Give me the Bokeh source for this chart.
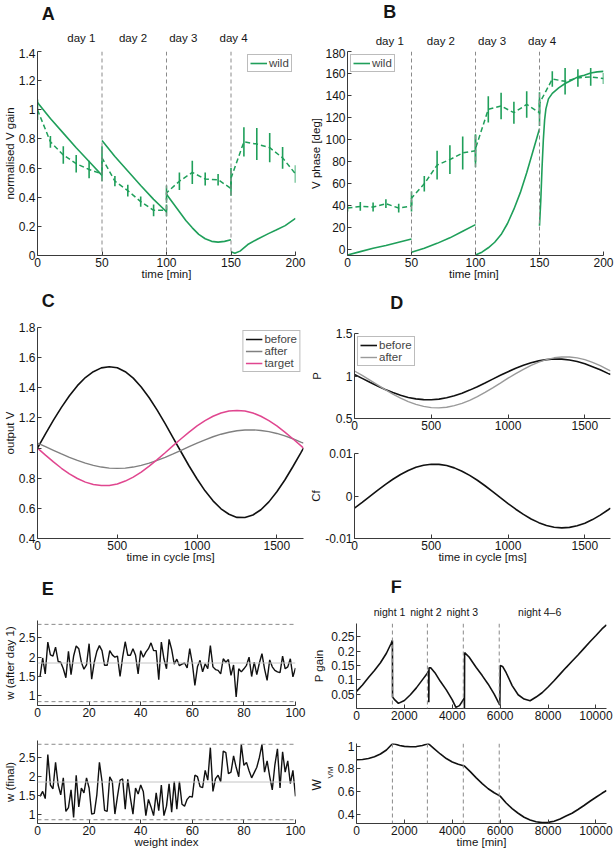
from bokeh.plotting import figure
from bokeh.layouts import row, column
from bokeh.models import Range1d, FixedTicker, Span, ColumnDataSource, Title
from bokeh.core.properties import value
from bokeh.embed import file_html
from bokeh.resources import INLINE

FONT = "Liberation Sans"
TICK_SIZE = "12px"
LAB_SIZE = "11.5px"
GREEN = "#1f9f5a"
AXC = "#3a3a3a"
TXT = "#151515"

# ---------------- Panel A: normalised V gain ----------------
A_model_t = [[0, 10, 20, 30, 40, 50],
             [50, 60, 70, 80, 90, 100],
             [100, 105, 110, 115, 120, 125, 130, 135, 140, 145, 150],
             [150, 153, 157, 163, 170, 179, 185, 192, 200]]
A_model_v = [[1.05, 0.94, 0.84, 0.74, 0.645, 0.55],
             [0.79, 0.68, 0.58, 0.48, 0.385, 0.30],
             [0.42, 0.36, 0.30, 0.24, 0.19, 0.145, 0.115, 0.097, 0.092, 0.097, 0.108],
             [0.025, 0.015, 0.03, 0.075, 0.11, 0.15, 0.175, 0.205, 0.255]]
A_exp_t = [0, 10, 20, 30, 40, 50, 50, 60, 70, 80, 90, 100, 100, 110, 120, 130, 140, 150, 150, 160, 170, 180, 190, 200]
A_exp_v = [1.0, 0.78, 0.69, 0.63, 0.59, 0.56, 0.67, 0.51, 0.445, 0.37, 0.31, 0.31, 0.43, 0.51, 0.57, 0.525, 0.52, 0.46, 0.53, 0.78, 0.765, 0.74, 0.67, 0.56]
A_exp_err = [0.07, 0.04, 0.06, 0.06, 0.06, 0.05, 0.08, 0.035, 0.04, 0.035, 0.04, 0.04, 0.05, 0.06, 0.08, 0.045, 0.04, 0.05, 0.07, 0.1, 0.11, 0.1, 0.075, 0.06]
A_xticks = [0, 50, 100, 150, 200]
A_yticks = [0, 0.2, 0.4, 0.6, 0.8, 1, 1.2, 1.4]
day_bounds = [50, 100, 150]
day_labels = ["day 1", "day 2", "day 3", "day 4"]
A_day_label_x = [34, 74, 113, 152]

# ---------------- Panel B: V phase ----------------
B_model_t = [[0, 10, 20, 30, 40, 50],
             [50, 60, 70, 80, 90, 100],
             [100, 105, 110, 115, 120, 125, 130, 135, 140, 145, 150],
             [150, 151, 152, 153, 154, 155, 157, 160, 165, 170, 175, 180, 185, 190, 195, 200]]
B_model_v = [[-4.5, -1.5, 1.5, 4, 7, 10],
             [-2, 1.5, 6, 11, 17, 23],
             [-4.5, -2, 2, 7, 14, 24, 37, 52, 70, 90, 110],
             [22, 45, 75, 100, 118, 128, 137, 142, 147, 151, 154, 157, 158.5, 160.5, 161.5, 162]]
B_exp_t = A_exp_t
B_exp_v = [38, 39.5, 39, 42, 38, 40, 47, 60, 77, 82, 88, 90, 92, 127.5, 130.5, 124.5, 132, 124.5, 133, 155, 153, 156, 157, 155.5]
B_exp_err = [3, 4, 4, 4, 4, 5, 6, 7, 13, 13, 15, 15, 12, 12, 12, 10, 12, 12, 10, 7, 12, 8, 8, 5]
B_yticks = [0, 20, 40, 60, 80, 100, 120, 140, 160, 180]
B_day_label_x = [33, 73, 113, 152]

# ---------------- Panels C, D: one cycle ----------------
cyc_t = [0, 50, 100, 150, 200, 250, 300, 350, 400, 450, 500, 550, 600, 650, 700, 750, 800, 850,
         900, 950, 1000, 1050, 1100, 1150, 1200, 1250, 1300, 1350, 1400, 1450, 1500, 1550, 1600, 1650, 1667]
C_before = [1.000, 1.094, 1.185, 1.270, 1.347, 1.414, 1.468, 1.507, 1.532, 1.540, 1.533, 1.507, 1.464, 1.405,
            1.334, 1.252, 1.162, 1.068, 0.974, 0.881, 0.795, 0.716, 0.650, 0.597, 0.561, 0.540, 0.539, 0.556,
            0.591, 0.643, 0.710, 0.788, 0.876, 0.968, 1.000]
C_after = [1.033, 1.009, 0.985, 0.961, 0.938, 0.918, 0.900, 0.885, 0.874, 0.867, 0.865, 0.867, 0.874, 0.885,
           0.900, 0.918, 0.938, 0.961, 0.985, 1.009, 1.033, 1.055, 1.075, 1.092, 1.105, 1.115, 1.120, 1.121,
           1.117, 1.109, 1.097, 1.081, 1.062, 1.040, 1.033]
C_target = [1.000, 0.953, 0.908, 0.866, 0.829, 0.798, 0.774, 0.758, 0.751, 0.752, 0.762, 0.781, 0.807, 0.840,
            0.880, 0.923, 0.969, 1.016, 1.062, 1.106, 1.147, 1.182, 1.211, 1.233, 1.246, 1.250, 1.246, 1.233,
            1.211, 1.182, 1.147, 1.106, 1.062, 1.016, 1.000]
D_before = [1.017, 0.972, 0.927, 0.883, 0.842, 0.805, 0.773, 0.748, 0.731, 0.722, 0.721, 0.728, 0.744, 0.768,
            0.798, 0.834, 0.874, 0.918, 0.963, 1.008, 1.051, 1.091, 1.126, 1.156, 1.178, 1.193, 1.200, 1.198,
            1.188, 1.170, 1.144, 1.110, 1.074, 1.031, 1.017]
D_after = [1.059, 1.007, 0.951, 0.895, 0.839, 0.787, 0.740, 0.699, 0.666, 0.642, 0.628, 0.625, 0.633, 0.651,
           0.678, 0.714, 0.758, 0.807, 0.861, 0.917, 0.974, 1.028, 1.079, 1.125, 1.163, 1.193, 1.214, 1.224,
           1.224, 1.213, 1.192, 1.161, 1.122, 1.076, 1.059]
D_cf = [-0.00285, -0.00149, -0.00009, 0.00131, 0.00268, 0.00394, 0.00506, 0.00601, 0.00675, 0.00724, 0.00748,
        0.00745, 0.00716, 0.00662, 0.00584, 0.00485, 0.00370, 0.00241, 0.00104, -0.00038, -0.00177, -0.00311,
        -0.00433, -0.00541, -0.00627, -0.00694, -0.00735, -0.00750, -0.00739, -0.00701, -0.00639, -0.00555,
        -0.00451, -0.00329, -0.00285]
cyc_xticks = [0, 500, 1000, 1500]
C_yticks = [0.4, 0.6, 0.8, 1, 1.2, 1.4, 1.6, 1.8]

# ---------------- Panel E: weights ----------------
E_index = list(range(1, 101))
E_after_day1 = [1.50, 1.98, 1.57, 2.39, 2.06, 2.03, 2.26, 1.89, 1.87, 1.70,
                1.47, 2.15, 1.55, 2.03, 2.29, 2.22, 1.87, 1.69, 1.80, 2.35,
                1.43, 1.87, 2.15, 2.30, 2.17, 1.79, 1.79, 2.17, 2.06, 2.00,
                2.03, 1.50, 2.00, 2.40, 2.05, 2.05, 2.22, 2.05, 1.57, 2.17,
                2.00, 2.13, 2.22, 2.37, 2.17, 2.17, 1.42, 2.39, 1.96, 1.70,
                2.46, 2.20, 1.82, 1.95, 1.78, 1.82, 1.85, 1.72, 2.22, 1.85,
                1.27, 1.75, 1.92, 1.62, 1.83, 1.70, 2.30, 1.75, 1.68, 1.66,
                1.57, 1.96, 1.87, 1.94, 1.53, 1.80, 0.97, 1.70, 1.62, 1.70,
                1.79, 2.00, 1.50, 1.87, 1.55, 1.85, 2.09, 1.70, 1.40, 1.93,
                1.75, 1.66, 1.62, 1.60, 2.03, 1.70, 1.75, 1.96, 1.49, 1.72]
E_final = [1.47, 1.60, 1.41, 2.58, 1.77, 1.67, 2.37, 1.77, 1.51, 1.96,
           1.07, 1.17, 1.64, 0.91, 2.03, 1.19, 1.69, 1.56, 1.96, 1.69,
           1.00, 1.02, 1.51, 2.37, 1.87, 1.10, 1.07, 1.99, 1.86, 1.00,
           1.47, 1.90, 1.93, 1.13, 1.92, 1.43, 1.00, 1.69, 1.53, 1.77,
           1.60, 0.96, 1.39, 1.19, 0.96, 1.56, 1.09, 1.77, 0.96, 1.21,
           1.80, 1.05, 1.86, 1.13, 1.86, 1.26, 1.21, 1.39, 1.47, 1.45,
           2.03, 1.99, 1.73, 1.70, 2.16, 1.90, 2.76, 1.60, 1.94, 2.03,
           1.86, 2.67, 2.63, 2.07, 2.11, 2.54, 2.24, 1.99, 2.84, 2.29,
           2.37, 2.15, 1.96, 2.10, 2.24, 2.50, 2.84, 2.11, 2.41, 2.00,
           1.64, 2.30, 2.73, 1.69, 2.65, 2.11, 2.41, 1.81, 2.16, 1.47]
E_bounds = [0.85, 2.85]
E_mean = 1.85
E_xticks = [0, 20, 40, 60, 80, 100]
E_yticks = [1, 1.5, 2, 2.5]

# ---------------- Panel F: long simulation ----------------
F_gain_t = [0, 250, 500, 750, 1000, 1250, 1450, 1500, 1505, 1600, 1750, 2000, 2250, 2500, 2750, 2950, 3015, 3020,
            3030, 3100, 3300, 3500, 3750, 4000, 4150, 4300, 4480, 4505, 4508, 4515, 4700, 5000, 5250, 5500, 5750,
            5985, 6005, 6100, 6250, 6500, 6750, 7000, 7250, 7500, 7750, 8000, 8250, 8500, 8750, 9000, 9250, 9500,
            9750, 10000, 10250, 10440]
F_gain_v = [0.060, 0.082, 0.108, 0.133, 0.160, 0.193, 0.228, 0.238, 0.040, 0.030, 0.018, 0.028, 0.048, 0.072,
            0.100, 0.122, 0.132, 0.022, 0.142, 0.142, 0.122, 0.095, 0.065, 0.030, 0.004, 0.010, 0.033, 0.037,
            0.002, 0.195, 0.180, 0.143, 0.115, 0.085, 0.050, 0.012, 0.150, 0.147, 0.125, 0.080, 0.048, 0.033,
            0.027, 0.040, 0.055, 0.075, 0.097, 0.120, 0.143, 0.165, 0.187, 0.210, 0.233, 0.255, 0.278, 0.292]
F_w_t = [0, 250, 500, 750, 1000, 1250, 1500, 1600, 1800, 2000, 2250, 2500, 2750, 2950, 3000, 3250, 3500, 3750,
         4000, 4250, 4500, 4750, 5000, 5250, 5500, 5750, 6000, 6250, 6500, 6750, 7000, 7250, 7500, 7750, 8000,
         8250, 8500, 8750, 9000, 9250, 9500, 9750, 10000, 10250, 10440]
F_w_v = [0.880, 0.882, 0.890, 0.905, 0.930, 0.965, 1.020, 1.018, 1.005, 0.997, 0.993, 0.995, 1.005, 1.017, 1.020,
         0.975, 0.930, 0.890, 0.860, 0.840, 0.825, 0.775, 0.720, 0.670, 0.625, 0.590, 0.560, 0.500, 0.450, 0.410,
         0.375, 0.350, 0.335, 0.328, 0.330, 0.340, 0.360, 0.385, 0.410, 0.443, 0.478, 0.515, 0.550, 0.585, 0.610]
night_bounds = [1500, 2960, 4460, 5960]
night_labels = ["night 1", "night 2", "night 3", "night 4\u20136"]
night_label_x = [1380, 2900, 4420, 7648]
F_xticks = [0, 2000, 4000, 6000, 8000, 10000]
F_gain_yticks = [0.05, 0.1, 0.15, 0.2, 0.25]
F_w_yticks = [0.4, 0.6, 0.8, 1]

COLW = 307


def blank(p):
    p.outline_line_color = None
    p.background_fill_color = "white"
    p.border_fill_color = "white"
    return p


def fig(h, left, right, top, bottom, xr, yr, xticks, yticks, xlabel=None, ylabel=None, ylab_standoff=0):
    p = figure(width=COLW, height=h, x_range=Range1d(*xr), y_range=Range1d(*yr),
               output_backend="svg", toolbar_location=None, title_location=None,
               min_border_left=left, min_border_right=right,
               min_border_top=top, min_border_bottom=bottom)
    blank(p)
    p.xgrid.visible = False
    p.ygrid.visible = False
    for ax, ticks, lab, so in ((p.xaxis[0], xticks, xlabel, -2), (p.yaxis[0], yticks, ylabel, ylab_standoff)):
        ax.ticker = FixedTicker(ticks=ticks)
        ax.major_label_overrides = {t: f"{t:g}" for t in ticks}
        ax.axis_line_color = AXC
        ax.axis_line_width = 1
        ax.major_tick_line_color = AXC
        ax.major_tick_in = 4
        ax.major_tick_out = 0
        ax.minor_tick_line_color = None
        ax.major_label_text_font = FONT
        ax.major_label_text_font_size = TICK_SIZE
        ax.major_label_text_color = TXT
        ax.major_label_standoff = 2
        ax.axis_label = lab
        ax.axis_label_text_font = FONT
        ax.axis_label_text_font_size = LAB_SIZE
        ax.axis_label_text_font_style = "normal"
        ax.axis_label_text_color = TXT
        ax.axis_label_standoff = so
    return p


def letter_header(h, letter, x, y):
    """Small strip above a panel holding its bold panel letter (pixel coordinates)."""
    p = figure(width=COLW, height=h, x_range=Range1d(0, COLW), y_range=Range1d(0, h),
               output_backend="svg", toolbar_location=None, title_location=None,
               x_axis_location=None, y_axis_location=None,
               min_border_left=0, min_border_right=0, min_border_top=0, min_border_bottom=0)
    blank(p)
    p.grid.visible = False
    p.text(x=[x], y=[y], text=[letter], text_font=value(FONT), text_font_size=value("18px"),
           text_font_style="bold", text_align="left", text_baseline="middle", text_color=TXT)
    return p


def label_header(h, parent, left, right, xs, labels, y, size="11.5px"):
    """Strip sharing the parent's x range, holding text labels above the data area."""
    p = figure(width=COLW, height=h, x_range=parent.x_range, y_range=Range1d(0, h),
               output_backend="svg", toolbar_location=None, title_location=None,
               x_axis_location=None, y_axis_location=None,
               min_border_left=left, min_border_right=right, min_border_top=0, min_border_bottom=0)
    blank(p)
    p.grid.visible = False
    p.text(x=xs, y=[y] * len(xs), text=labels, text_font=value(FONT), text_font_size=value(size),
           text_align="center", text_baseline="middle", text_color=TXT)
    return p


def vspans(p, locs):
    for loc in locs:
        p.add_layout(Span(location=loc, dimension="height", line_color="#8a8a8a",
                          line_dash="4 3", line_width=1))


def style_legend(p, loc):
    lg = p.legend[0]
    lg.location = loc
    lg.margin = 3
    lg.padding = 2
    lg.spacing = 0
    lg.label_text_font = FONT
    lg.label_text_font_size = "11.5px"
    lg.label_height = 12
    lg.glyph_height = 12
    lg.glyph_width = 17
    lg.label_standoff = 2
    lg.border_line_color = "#7a7a7a"
    lg.border_line_width = 1
    lg.background_fill_alpha = 1.0


def gain_phase_panel(p, mt, mv, et, ev, ee, loc):
    for i, (t, v) in enumerate(zip(mt, mv)):
        if i == 0:
            p.line(t, v, color=GREEN, line_width=1.6, legend_label="wild")
        else:
            p.line(t, v, color=GREEN, line_width=1.6)
    src = ColumnDataSource(dict(x=et, y=ev,
                                lo=[a - b for a, b in zip(ev, ee)],
                                hi=[a + b for a, b in zip(ev, ee)]))
    p.segment("x", "lo", "x", "hi", source=src, color=GREEN, line_width=1.6)
    p.line("x", "y", source=src, color=GREEN, line_width=1.5, line_dash="5 3")
    style_legend(p, loc)


# ===== Row 1 =====
A_L, A_R = 36, 12
pA = fig(242, A_L, A_R, 3, 35, (0, 200), (0, 1.4), A_xticks, A_yticks, "time [min]", "normalised V gain")
vspans(pA, day_bounds)
gain_phase_panel(pA, A_model_t, A_model_v, A_exp_t, A_exp_v, A_exp_err, "top_right")
hA1 = letter_header(24, "A", 5, 10.5)
hA2 = label_header(24, pA, A_L, A_R, A_day_label_x, day_labels, 11)

B_L, B_R = 39, 11
pB = fig(242, B_L, B_R, 3, 35, (0, 200), (-5, 180), A_xticks, B_yticks, "time  [min]", "V phase [deg]")
vspans(pB, day_bounds)
gain_phase_panel(pB, B_model_t, B_model_v, B_exp_t, B_exp_v, B_exp_err, "top_left")
hB1 = letter_header(24, "B", 43, 12.5)
hB2 = label_header(24, pB, B_L, B_R, B_day_label_x, day_labels, 8)

# ===== Row 2 =====
pC = fig(268, 36, 4, 15, 42, (0, 1667), (0.4, 1.8), cyc_xticks, C_yticks, "time in cycle [ms]", "output V")
pC.line(cyc_t, C_before, color="#111111", line_width=1.6, legend_label="before")
pC.line(cyc_t, C_after, color="#808080", line_width=1.4, legend_label="after")
pC.line(cyc_t, C_target, color="#e0468f", line_width=1.5, legend_label="target")
style_legend(pC, "top_right")
hC = letter_header(22, "C", 5, 11.5)

pD1 = fig(124, 47, 4, 21, 18, (0, 1667), (0.5, 1.5), cyc_xticks, [0.5, 1, 1.5], None, "P", ylab_standoff=10)
pD1.line(cyc_t, D_before, color="#111111", line_width=1.6, legend_label="before")
pD1.line(cyc_t, D_after, color="#9a9a9a", line_width=1.4, legend_label="after")
style_legend(pD1, "top_left")
pD2 = fig(144, 47, 4, 17, 42, (0, 1667), (-0.01, 0.01), cyc_xticks, [-0.01, 0, 0.01],
          "time in cycle [ms]", "Cf")
pD2.line(cyc_t, D_cf, color="#111111", line_width=1.6)
hD = letter_header(22, "D", 43, 9.5)

# ===== Row 3 =====
def weight_panel(p, vals):
    for b in E_bounds:
        p.add_layout(Span(location=b, dimension="width", line_color="#8a8a8a", line_dash="4 3", line_width=1))
    p.add_layout(Span(location=E_mean, dimension="width", line_color="#c4c4c4", line_width=1))
    p.line(E_index, vals, color="#111111", line_width=1.4)


pE1 = fig(119, 36, 12, 18, 16, (0, 100), (0.75, 2.95), E_xticks, E_yticks, None, "w (after day 1)")
weight_panel(pE1, E_after_day1)
pE2 = fig(131, 36, 12, 19, 29, (0, 100), (0.75, 2.95), E_xticks, E_yticks, "weight index", "w (final)")
weight_panel(pE2, E_final)
hE = letter_header(22, "E", 5, 13.5)

F_L, F_R = 45, 8
pF1 = fig(104, F_L, F_R, 3, 16, (0, 10440), (0.0, 0.297), F_xticks, F_gain_yticks, None, "P gain",
          ylab_standoff=3)
vspans(pF1, night_bounds)
pF1.line(F_gain_t, F_gain_v, color="#111111", line_width=1.6)
hF1 = letter_header(18, "F", 42, 11.5)
hF2 = label_header(22, pF1, F_L, F_R, night_label_x, night_labels, 9, size="10.5px")

pF2 = fig(128, F_L, F_R, 19, 29, (0, 10440), (0.32, 1.022), F_xticks, F_w_yticks, "time [min]", None)
vspans(pF2, night_bounds)
pF2.line(F_w_t, F_w_v, color="#111111", line_width=1.6)
# y-axis title "W" with subscript "VM" (two stacked side titles)
pF2.add_layout(Title(text="VM", align="left", offset=45, standoff=0, text_font=FONT,
                     text_font_size="8px", text_font_style="normal", text_color=TXT), "left")
pF2.add_layout(Title(text="W", align="left", offset=33, standoff=0, text_font=FONT,
                     text_font_size="12px", text_font_style="normal", text_color=TXT), "left")

layout = column(
    row(column(hA1, hA2, pA), column(hB1, hB2, pB)),
    row(column(hC, pC), column(hD, pD1, pD2)),
    row(column(hE, pE1, pE2), column(hF1, hF2, pF1, pF2)),
)

open("out.html", "w").write(file_html(layout, INLINE))
